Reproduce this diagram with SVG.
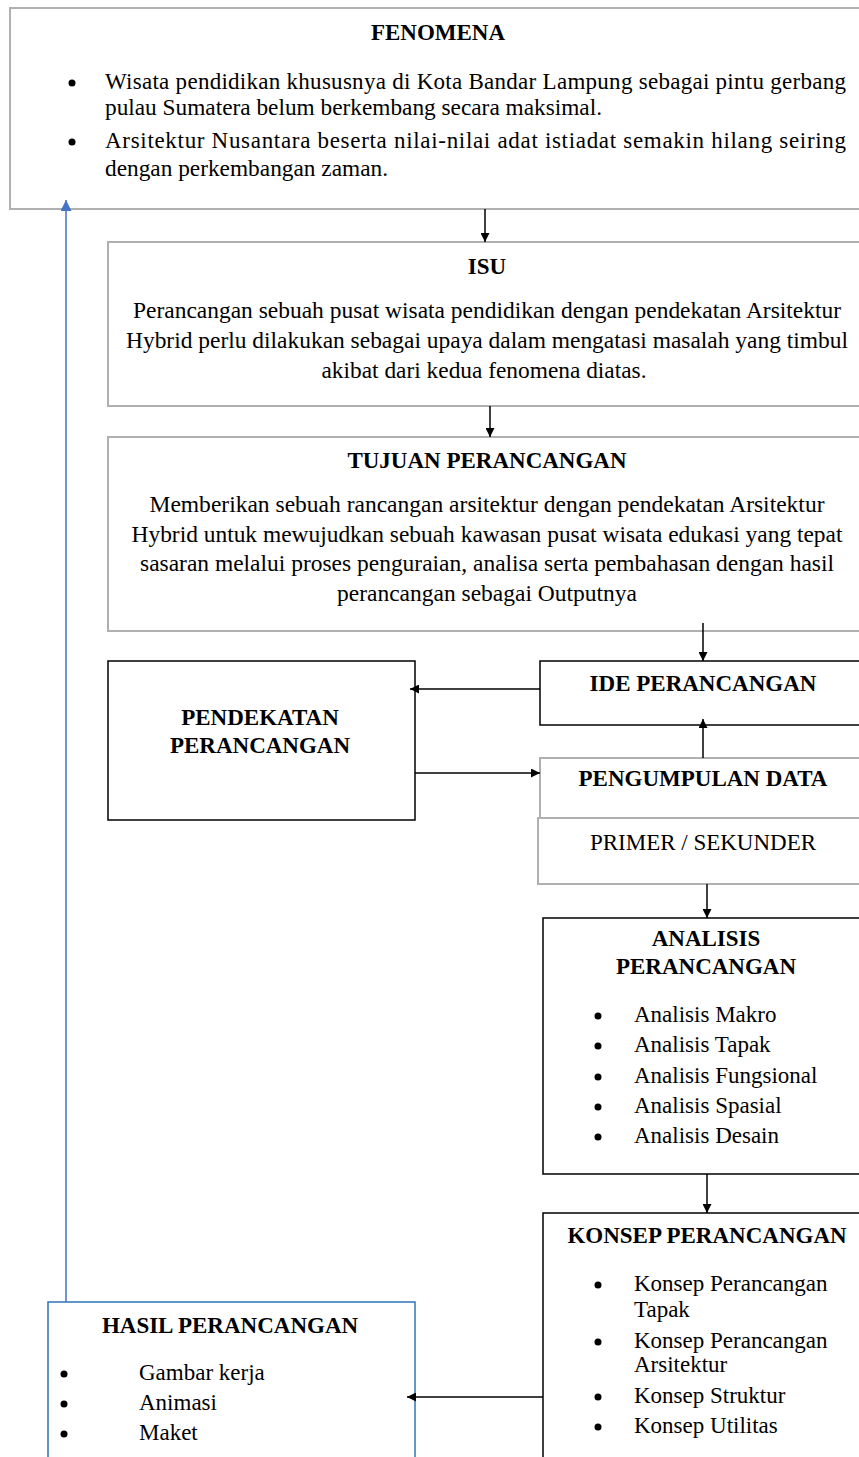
<svg xmlns="http://www.w3.org/2000/svg" width="859" height="1457" viewBox="0 0 859 1457">
<defs>
<style>
text{font-family:"Liberation Serif","Times New Roman",serif;font-size:23px;fill:#000}
.b{font-weight:bold}
.c{text-anchor:middle}
.grey{fill:#fff;stroke:#b0b0b0;stroke-width:2}
.blk{fill:#fff;stroke:#000;stroke-width:1.5}
.blue{fill:#fff;stroke:#2e75b6;stroke-width:1.5}
.arr{stroke:#000;stroke-width:1.5;fill:none;marker-end:url(#ah)}
.barr{stroke:#4472c4;stroke-width:1.5;fill:none;marker-end:url(#bh)}
</style>
<marker id="ah" viewBox="0 0 10 10" refX="10" refY="5" markerWidth="9" markerHeight="9" markerUnits="userSpaceOnUse" orient="auto"><path d="M0,0 L10,5 L0,10 z" fill="#000"/></marker>
<marker id="bh" viewBox="0 0 10 10" refX="10" refY="5" markerWidth="11" markerHeight="11" markerUnits="userSpaceOnUse" orient="auto"><path d="M0,0 L10,5 L0,10 z" fill="#4472c4"/></marker>
</defs>
<rect width="859" height="1457" fill="#fff"/>

<g id="fenomena">
<rect class="grey" x="10" y="8" width="860" height="201"/>
<text class="b c" x="438" y="40">FENOMENA</text>
<circle cx="72" cy="83" r="3.5"/>
<text x="105" y="89" textLength="741" lengthAdjust="spacing">Wisata pendidikan khususnya di Kota Bandar Lampung sebagai pintu gerbang</text>
<text x="105" y="115" textLength="497" lengthAdjust="spacingAndGlyphs">pulau Sumatera belum berkembang secara maksimal.</text>
<circle cx="72" cy="142" r="3.5"/>
<text x="105" y="148" textLength="741" lengthAdjust="spacing">Arsitektur Nusantara beserta nilai-nilai adat istiadat semakin hilang seiring</text>
<text x="105" y="176" textLength="283" lengthAdjust="spacingAndGlyphs">dengan perkembangan zaman.</text>
</g>

<g id="isu">
<rect class="grey" x="108" y="242" width="760" height="164"/>
<text class="b c" x="487" y="274">ISU</text>
<text class="c" x="487" y="318" textLength="708" lengthAdjust="spacingAndGlyphs">Perancangan sebuah pusat wisata pendidikan dengan pendekatan Arsitektur</text>
<text class="c" x="487" y="348" textLength="722" lengthAdjust="spacingAndGlyphs">Hybrid perlu dilakukan sebagai upaya dalam mengatasi masalah yang timbul</text>
<text class="c" x="484" y="378" textLength="325" lengthAdjust="spacingAndGlyphs">akibat dari kedua fenomena diatas.</text>
</g>

<g id="tujuan">
<rect class="grey" x="108" y="437" width="760" height="194"/>
<text class="b c" x="487" y="468">TUJUAN PERANCANGAN</text>
<text class="c" x="487" y="512" textLength="675" lengthAdjust="spacingAndGlyphs">Memberikan sebuah rancangan arsitektur dengan pendekatan Arsitektur</text>
<text class="c" x="487" y="542" textLength="711" lengthAdjust="spacingAndGlyphs">Hybrid untuk mewujudkan sebuah kawasan pusat wisata edukasi yang tepat</text>
<text class="c" x="487" y="571" textLength="694" lengthAdjust="spacingAndGlyphs">sasaran melalui proses penguraian, analisa serta pembahasan dengan hasil</text>
<text class="c" x="487" y="601" textLength="300" lengthAdjust="spacingAndGlyphs">perancangan sebagai Outputnya</text>
</g>

<g id="ide">
<rect class="blk" x="540" y="661" width="330" height="64"/>
<text class="b c" x="703" y="691">IDE PERANCANGAN</text>
</g>

<g id="pendekatan">
<rect class="blk" x="108" y="661" width="307" height="159"/>
<text class="b c" x="260" y="725">PENDEKATAN</text>
<text class="b c" x="260" y="753">PERANCANGAN</text>
</g>

<g id="pengumpulan">
<rect class="grey" x="540" y="758" width="330" height="60"/>
<text class="b c" x="703" y="786">PENGUMPULAN DATA</text>
</g>

<g id="primer">
<rect class="grey" x="538" y="818" width="332" height="66"/>
<text class="c" x="703" y="850">PRIMER / SEKUNDER</text>
</g>

<g id="analisis">
<rect class="blk" x="543" y="918" width="327" height="256"/>
<text class="b c" x="706" y="946">ANALISIS</text>
<text class="b c" x="706" y="974">PERANCANGAN</text>
<circle cx="598" cy="1016" r="3.5"/><text x="634" y="1022">Analisis Makro</text>
<circle cx="598" cy="1046" r="3.5"/><text x="634" y="1052">Analisis Tapak</text>
<circle cx="598" cy="1077" r="3.5"/><text x="634" y="1083">Analisis Fungsional</text>
<circle cx="598" cy="1107" r="3.5"/><text x="634" y="1113">Analisis Spasial</text>
<circle cx="598" cy="1137" r="3.5"/><text x="634" y="1143">Analisis Desain</text>
</g>

<g id="konsep">
<rect class="blk" x="543" y="1213" width="327" height="260"/>
<text class="b c" x="707" y="1243">KONSEP PERANCANGAN</text>
<circle cx="598" cy="1285" r="3.5"/><text x="634" y="1291">Konsep Perancangan</text>
<text x="634" y="1317">Tapak</text>
<circle cx="598" cy="1342" r="3.5"/><text x="634" y="1348">Konsep Perancangan</text>
<text x="634" y="1372">Arsitektur</text>
<circle cx="598" cy="1397" r="3.5"/><text x="634" y="1403">Konsep Struktur</text>
<circle cx="598" cy="1427" r="3.5"/><text x="634" y="1433">Konsep Utilitas</text>
</g>

<g id="hasil">
<rect class="blue" x="48" y="1302" width="367" height="170"/>
<text class="b c" x="230" y="1333">HASIL PERANCANGAN</text>
<circle cx="64" cy="1374" r="3.5"/><text x="139" y="1380">Gambar kerja</text>
<circle cx="64" cy="1404" r="3.5"/><text x="139" y="1410">Animasi</text>
<circle cx="64" cy="1434" r="3.5"/><text x="139" y="1440">Maket</text>
</g>

<g id="connectors">
<line class="arr" x1="485" y1="209" x2="485" y2="242"/>
<line class="arr" x1="490" y1="406" x2="490" y2="437"/>
<line class="arr" x1="703" y1="623" x2="703" y2="661"/>
<line class="arr" x1="540" y1="689" x2="410" y2="689"/>
<line class="arr" x1="415" y1="773" x2="540" y2="773"/>
<line class="arr" x1="703" y1="758" x2="703" y2="719"/>
<line class="arr" x1="707" y1="884" x2="707" y2="918"/>
<line class="arr" x1="707" y1="1174" x2="707" y2="1213"/>
<line class="arr" x1="543" y1="1397" x2="407" y2="1397"/>
<line class="barr" x1="66" y1="1302" x2="66" y2="200"/>
</g>
</svg>
